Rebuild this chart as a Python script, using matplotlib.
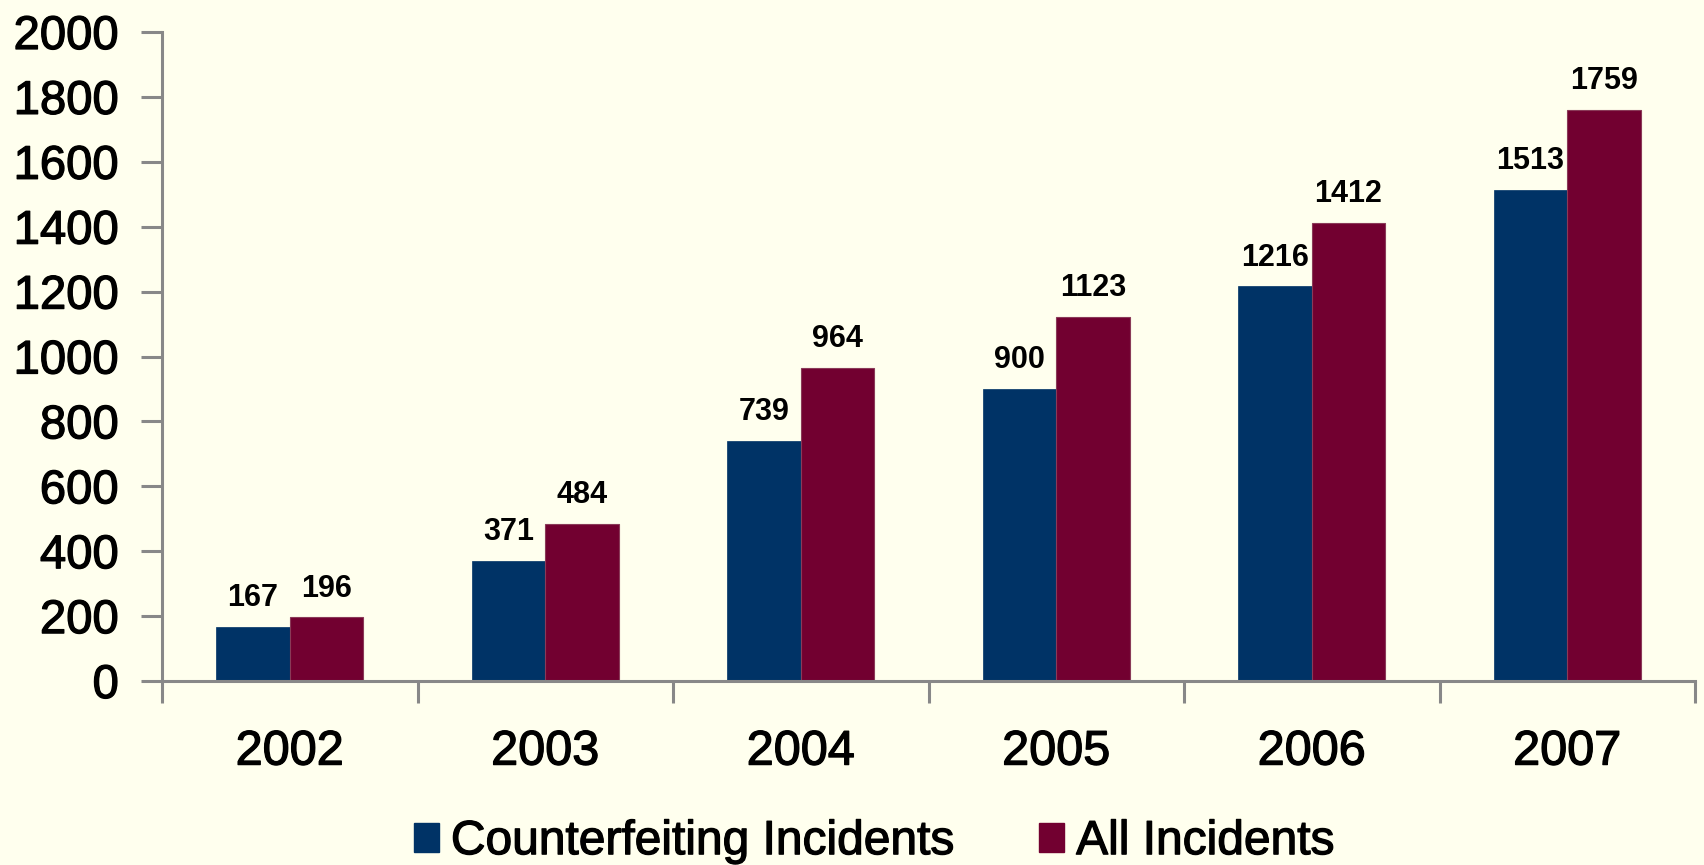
import matplotlib
matplotlib.use("Agg")
import matplotlib.pyplot as plt
import matplotlib.patheffects as pe
import numpy as np
from matplotlib.patches import Patch

years = ["2002", "2003", "2004", "2005", "2006", "2007"]
counterfeit = [167, 371, 739, 900, 1216, 1513]
all_incidents = [196, 484, 964, 1123, 1412, 1759]
series_names = ["Counterfeiting Incidents", "All Incidents"]
yticks = [0, 200, 400, 600, 800, 1000, 1200, 1400, 1600, 1800, 2000]

plt.rcParams['font.family'] = ['Liberation Sans', 'DejaVu Sans']
BG = '#FFFFEE'
BLUE = '#003366'
RED = '#720030'
GREY = '#888888'
stroke = [pe.withStroke(linewidth=0.9, foreground='black')]

fig = plt.figure(figsize=(17.04, 8.65), dpi=100, facecolor=BG)
ax = fig.add_axes([162/1704, 184/865, (1695-162)/1704, (681-32)/865])
ax.set_facecolor(BG)

x = np.arange(len(years))
w = 0.287
b1 = ax.bar(x - w/2, counterfeit, w, color=BLUE, edgecolor=BLUE, linewidth=0.5)
b2 = ax.bar(x + w/2, all_incidents, w, color=RED, edgecolor='#8a3a58', linewidth=0.8)

for bars, vals in ((b1, counterfeit), (b2, all_incidents)):
    for r, v in zip(bars, vals):
        ax.annotate(str(v), (r.get_x() + r.get_width()/2, v), xytext=(0, 10),
                    textcoords='offset points', ha='center', va='bottom',
                    fontsize=22, fontweight='bold', color='black')

ax.set_xlim(-0.5, len(years) - 0.5)
ax.set_ylim(0, 2000)
ax.set_yticks(yticks)
ax.set_yticklabels([str(t) for t in yticks], fontsize=34)
ax.set_xticks(x)
ax.set_xticklabels(years, fontsize=35)
ax.set_xticks(np.arange(len(years) + 1) - 0.5, minor=True)
ax.tick_params(axis='x', which='major', length=0, pad=35)
ax.tick_params(axis='x', which='minor', length=16, width=2.2, color=GREY)
ax.tick_params(axis='y', length=15, width=2.2, color=GREY, pad=16)
for lab in ax.get_xticklabels() + ax.get_yticklabels():
    lab.set_path_effects(stroke)

for s in ('top', 'right'):
    ax.spines[s].set_visible(False)
for s in ('left', 'bottom'):
    ax.spines[s].set_color(GREY)
    ax.spines[s].set_linewidth(2.2)

handles = [Patch(facecolor=BLUE, edgecolor=BLUE), Patch(facecolor=RED, edgecolor=RED)]
leg = fig.legend(handles, series_names, loc='center', bbox_to_anchor=(0.513, 0.027),
                 ncol=2, frameon=False, fontsize=34.5, handlelength=0.53, handleheight=0.56,
                 handletextpad=0.25, columnspacing=1.75)
for t in leg.get_texts():
    t.set_path_effects(stroke)

fig.savefig('out.png', dpi=100, facecolor=BG)
